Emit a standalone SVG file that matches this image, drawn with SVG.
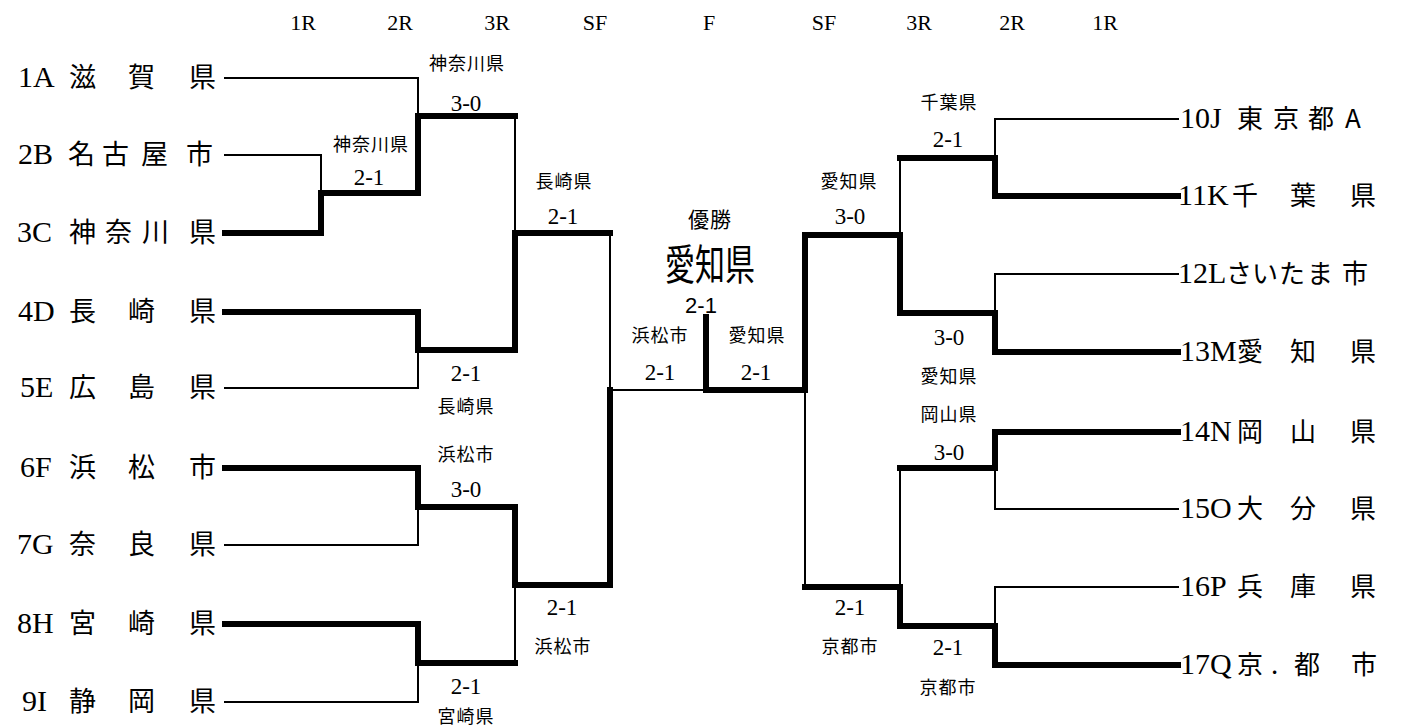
<svg xmlns="http://www.w3.org/2000/svg" width="1408" height="728" viewBox="0 0 1408 728">
<style>
.hdr{font-family:"Liberation Serif","Noto Sans CJK JP",serif;font-size:22px;fill:#000;text-anchor:middle}
.num{font-family:"Liberation Serif","Noto Sans CJK JP",serif;font-size:30px;fill:#000}
.cj{font-family:"Noto Sans CJK JP",sans-serif;font-size:27px;fill:#000}
.cjr{font-family:"Noto Sans CJK JP",sans-serif;font-size:26px;fill:#000}
.lk{font-family:"Noto Sans CJK JP",sans-serif;font-size:18px;fill:#000;text-anchor:middle;letter-spacing:1px}
.ls{font-family:"Liberation Serif","Noto Sans CJK JP",serif;font-size:23px;fill:#000;text-anchor:middle}
.thin{fill:none;stroke:#000;stroke-width:2;stroke-linecap:square}
.thick{fill:none;stroke:#000;stroke-width:6;stroke-linecap:square;stroke-linejoin:miter}
</style>
<rect width="1408" height="728" fill="#fff"/>
<g id="header">
<text class="hdr" x="303" y="30">1R</text>
<text class="hdr" x="400" y="30">2R</text>
<text class="hdr" x="497" y="30">3R</text>
<text class="hdr" x="595" y="30">SF</text>
<text class="hdr" x="709" y="30">F</text>
<text class="hdr" x="824" y="30">SF</text>
<text class="hdr" x="919" y="30">3R</text>
<text class="hdr" x="1012" y="30">2R</text>
<text class="hdr" x="1105" y="30">1R</text>
</g>
<g id="connectors">
<path class="thin" d="M225,78 H418 V116 M225,155 H321 V193 M225,388 H418 V350 M225,545 H418 V507 M225,702 H418 V663 M515,116 V233 M515,585 V663 M610,233 V390 H706"/>
<path class="thick" d="M225,233 H321 V193 H418 V116 H515"/>
<path class="thick" d="M225,312 H418 V350 H515 V233 H610"/>
<path class="thick" d="M225,468 H418 V507 H515 V585 H610 V390"/>
<path class="thick" d="M225,624 H418 V663 H515"/>
<path class="thick" d="M706,317 V390 H805 V235 H900 V313 H995 V352 H1178"/>
<path class="thick" d="M1178,196 H995 V158 H900"/>
<path class="thick" d="M1178,432 H995 V468 H900"/>
<path class="thick" d="M805,587 H900 V626 H995 V665 H1178"/>
<path class="thin" d="M1178,119 H995 V158 M900,158 V235 M1178,274 H995 V313 M1178,509 H995 V468 M900,468 V587 M805,390 V587 M1178,587 H995 V626"/>
</g>
<g id="team-1A"><text y="87"><tspan class="num" x="18">1A</tspan><tspan class="cj" x="69">滋</tspan><tspan class="cj" x="128">賀</tspan><tspan class="cj" x="189">県</tspan></text></g>
<g id="team-2B"><text y="164"><tspan class="num" x="18">2B</tspan><tspan class="cj" x="68">名</tspan><tspan class="cj" x="102">古</tspan><tspan class="cj" x="141">屋</tspan><tspan class="cj" x="186">市</tspan></text></g>
<g id="team-3C"><text y="242"><tspan class="num" x="17">3C</tspan><tspan class="cj" x="69">神</tspan><tspan class="cj" x="105">奈</tspan><tspan class="cj" x="142">川</tspan><tspan class="cj" x="189">県</tspan></text></g>
<g id="team-4D"><text y="321"><tspan class="num" x="18">4D</tspan><tspan class="cj" x="69">長</tspan><tspan class="cj" x="128">崎</tspan><tspan class="cj" x="189">県</tspan></text></g>
<g id="team-5E"><text y="397"><tspan class="num" x="20">5E</tspan><tspan class="cj" x="69">広</tspan><tspan class="cj" x="128">島</tspan><tspan class="cj" x="189">県</tspan></text></g>
<g id="team-6F"><text y="477"><tspan class="num" x="20">6F</tspan><tspan class="cj" x="69">浜</tspan><tspan class="cj" x="128">松</tspan><tspan class="cj" x="189">市</tspan></text></g>
<g id="team-7G"><text y="554"><tspan class="num" x="17">7G</tspan><tspan class="cj" x="69">奈</tspan><tspan class="cj" x="128">良</tspan><tspan class="cj" x="189">県</tspan></text></g>
<g id="team-8H"><text y="633"><tspan class="num" x="17">8H</tspan><tspan class="cj" x="69">宮</tspan><tspan class="cj" x="128">崎</tspan><tspan class="cj" x="189">県</tspan></text></g>
<g id="team-9I"><text y="711"><tspan class="num" x="22">9I</tspan><tspan class="cj" x="69">静</tspan><tspan class="cj" x="128">岡</tspan><tspan class="cj" x="189">県</tspan></text></g>
<g id="team-10J"><text y="128"><tspan class="num" x="1180">10J</tspan><tspan class="cjr" x="1237">東</tspan><tspan class="cjr" x="1273">京</tspan><tspan class="cjr" x="1308">都</tspan><tspan class="cjr" x="1345">A</tspan></text></g>
<g id="team-11K"><text y="205"><tspan class="num" x="1178">11K</tspan><tspan class="cjr" x="1232">千</tspan><tspan class="cjr" x="1290">葉</tspan><tspan class="cjr" x="1350">県</tspan></text></g>
<g id="team-12L"><text y="283"><tspan class="num" x="1178">12L</tspan><tspan class="cjr" x="1226">さ</tspan><tspan class="cjr" x="1252">い</tspan><tspan class="cjr" x="1279">た</tspan><tspan class="cjr" x="1307">ま</tspan><tspan class="cjr" x="1342">市</tspan></text></g>
<g id="team-13M"><text y="361"><tspan class="num" x="1180">13M</tspan><tspan class="cjr" x="1237">愛</tspan><tspan class="cjr" x="1290">知</tspan><tspan class="cjr" x="1350">県</tspan></text></g>
<g id="team-14N"><text y="441"><tspan class="num" x="1180">14N</tspan><tspan class="cjr" x="1237">岡</tspan><tspan class="cjr" x="1290">山</tspan><tspan class="cjr" x="1350">県</tspan></text></g>
<g id="team-15O"><text y="518"><tspan class="num" x="1180">15O</tspan><tspan class="cjr" x="1237">大</tspan><tspan class="cjr" x="1290">分</tspan><tspan class="cjr" x="1350">県</tspan></text></g>
<g id="team-16P"><text y="596"><tspan class="num" x="1180">16P</tspan><tspan class="cjr" x="1237">兵</tspan><tspan class="cjr" x="1290">庫</tspan><tspan class="cjr" x="1350">県</tspan></text></g>
<g id="team-17Q"><text y="674"><tspan class="num" x="1180">17Q</tspan><tspan class="cjr" x="1237">京</tspan><tspan class="cjr" x="1271">.</tspan><tspan class="cjr" x="1294">都</tspan><tspan class="cjr" x="1351">市</tspan></text></g>
<g id="labels-left">
<text class="lk" x="371" y="151">神奈川県</text>
<text class="ls" x="369" y="185">2-1</text>
<text class="lk" x="467" y="70">神奈川県</text>
<text class="ls" x="466" y="111">3-0</text>
<text class="ls" x="466" y="381">2-1</text>
<text class="lk" x="466" y="413">長崎県</text>
<text class="lk" x="466" y="461">浜松市</text>
<text class="ls" x="466" y="497">3-0</text>
<text class="ls" x="466" y="694">2-1</text>
<text class="lk" x="466" y="723">宮崎県</text>
<text class="lk" x="564" y="188">長崎県</text>
<text class="ls" x="563" y="224">2-1</text>
<text class="ls" x="562" y="615">2-1</text>
<text class="lk" x="563" y="653">浜松市</text>
</g>
<g id="labels-final">
<text class="lk" x="660" y="342">浜松市</text>
<text class="ls" x="660" y="380">2-1</text>
<text class="lk" x="757" y="342">愛知県</text>
<text class="ls" x="756" y="380">2-1</text>
<text class="lk" x="710" y="227" style="font-size:21px">優勝</text>
<text x="0" y="0" transform="translate(710,280) scale(1,1.4)" style="font-family:'Noto Sans CJK JP',sans-serif;font-size:30px;text-anchor:middle;fill:#000">愛知県</text>
<text x="701" y="313" style="font-family:'Liberation Sans',sans-serif;font-size:22px;text-anchor:middle;fill:#000">2-1</text>
</g>
<g id="labels-right">
<text class="lk" x="849" y="188">愛知県</text>
<text class="ls" x="850" y="224">3-0</text>
<text class="ls" x="850" y="615">2-1</text>
<text class="lk" x="850" y="653">京都市</text>
<text class="lk" x="949" y="109">千葉県</text>
<text class="ls" x="948" y="147">2-1</text>
<text class="ls" x="949" y="345">3-0</text>
<text class="lk" x="949" y="383">愛知県</text>
<text class="lk" x="949" y="421">岡山県</text>
<text class="ls" x="949" y="460">3-0</text>
<text class="ls" x="948" y="655">2-1</text>
<text class="lk" x="948" y="694">京都市</text>
</g>
</svg>
